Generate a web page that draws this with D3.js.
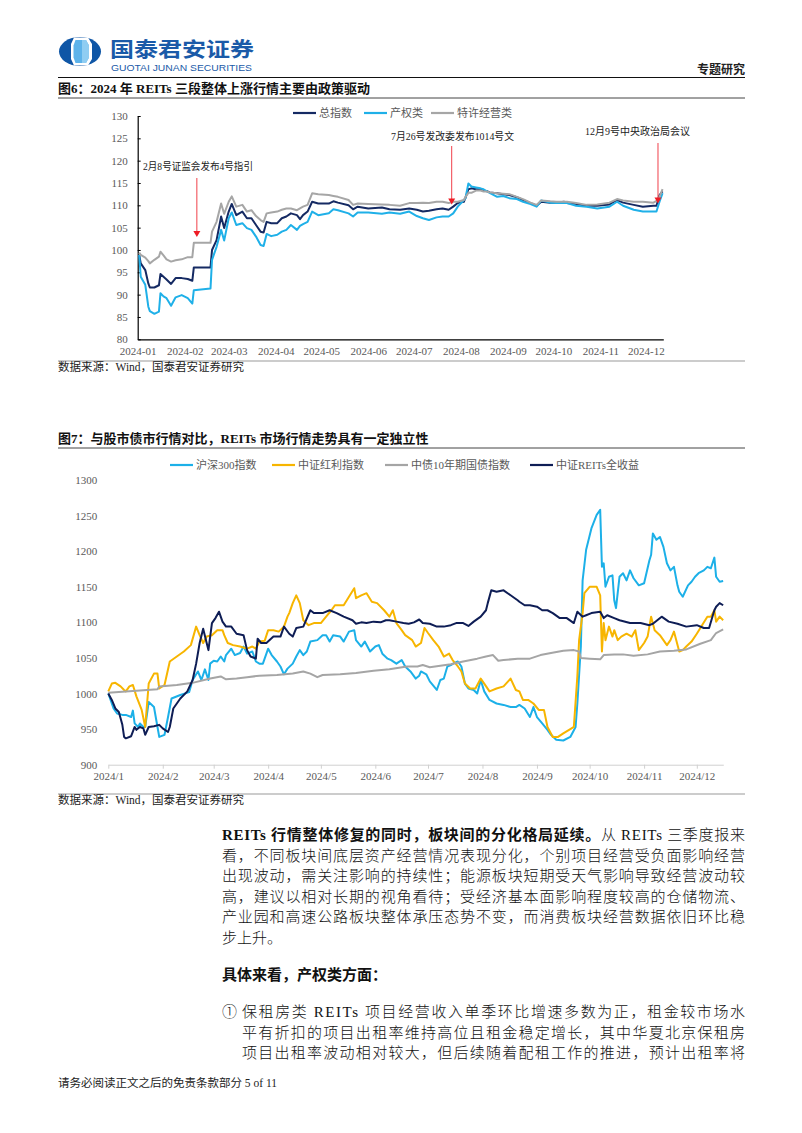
<!DOCTYPE html>
<html><head><meta charset="utf-8">
<script src="https://cdn.jsdelivr.net/npm/d3@7"></script>
<style>body{margin:0;background:#fff}svg{display:block}</style>
</head><body>
<svg id="page" width="802" height="1133"></svg>
<script>
// ---------------- DATA: Figure 6 (day-of-year 2024, index values) ----------------
const c1Days = [1,2,5,7,8,11,14,15,17,19,22,25,29,33,36,37,48,49,52,55,57,60,62,65,69,72,75,78,81,83,85,88,92,95,98,101,105,107,109,112,115,119,126,129,132,139,142,145,152,161,
  166,173,179,184,188,192,197,201,205,208,211,215,216,218,220,223,226,228,230,232,237,241,245,250,254,259,263,266,272,276,281,283,289,296,303,311,316,320,327,333,340,342,344,346];
const c1Total = [98.9,97.0,95.5,92.5,91.6,91.6,92.1,94.6,94.0,93.4,92.4,93.7,93.7,93.5,93.1,96.1,96.1,100.0,102.2,107.5,104.9,108.6,110.3,107.8,108.6,107.1,107.1,105.6,104.1,103.9,106.3,106.0,106.0,107.1,107.5,108.2,107.8,106.9,107.8,108.6,110.8,110.4,110.4,110.9,110.6,110.0,109.1,109.7,109.3,109.5,
  109.1,109.0,109.3,109.0,108.6,108.8,109.1,109.3,109.0,109.7,110.5,110.8,111.6,113.6,113.8,113.6,113.6,113.2,113.2,112.9,112.7,112.5,112.3,111.8,111.2,110.5,109.9,110.8,110.6,110.6,110.8,110.5,110.3,109.9,109.9,110.2,111.2,110.6,110.1,109.7,109.9,109.9,112.3,113.1];
const c1Property = [98.9,94.0,92.2,87.3,86.3,85.7,86.2,90.3,89.6,89.2,87.5,89.4,89.9,89.2,88.0,91.0,91.4,97.8,100.7,104.5,102.1,107.1,108.4,105.6,106.0,104.9,104.5,103.0,101.1,100.9,103.6,103.1,103.4,104.1,104.5,105.6,104.5,105.4,105.8,106.3,108.6,107.8,108.2,109.1,108.9,108.2,107.5,108.4,108.4,108.1,
  108.4,108.1,108.6,107.6,107.1,106.7,107.3,107.5,107.5,108.2,109.7,111.2,111.5,114.9,114.2,114.0,113.8,113.6,113.2,112.8,111.9,112.1,111.6,111.4,110.8,110.3,109.7,111.1,110.6,110.5,110.5,110.5,109.9,109.7,109.3,109.7,110.8,109.9,109.0,108.6,108.6,108.6,110.8,112.7];
const c1Franchise = [99.4,98.9,98.3,97.5,97.0,97.8,98.5,99.6,98.8,97.9,97.4,97.7,97.9,98.4,98.4,101.6,101.6,104.1,106.3,110.4,108.1,110.8,112.0,109.7,110.1,108.6,108.9,107.6,106.7,106.3,108.2,108.4,108.6,109.0,109.3,109.3,108.9,109.3,109.7,110.1,112.7,112.5,112.3,112.1,111.9,111.2,110.1,110.4,110.3,110.2,
  110.1,109.9,110.5,110.5,110.6,110.5,110.8,110.8,110.5,110.8,110.8,111.2,111.8,112.8,112.8,113.3,113.3,113.1,113.1,112.9,112.7,112.6,112.5,111.9,111.4,110.6,110.1,111.1,110.9,110.8,110.8,110.8,110.5,110.1,110.2,110.6,111.4,111.1,110.8,110.8,110.6,111.0,111.9,113.6];
const c1SeriesNames = ["总指数","产权类","特许经营类"];
const c1YTicks = [80,85,90,95,100,105,110,115,120,125,130];
const c1Events = [
  {day:39, label:"2月8号证监会发布4号指引"},
  {day:207, label:"7月26号发改委发布1014号文"},
  {day:343, label:"12月9号中央政治局会议"}
];

// ---------------- DATA: Figure 7 ([day-of-year 2024, index]) ----------------
const hs300 = [[0,1000],[3,979],[5,972],[8,970],[10,970],[13,967],[14,976],[15,958],[17,953],[18,958],[20,953],[21,953],[23,988],[26,981],[28,953],[29,939],[32,942],[34,967],[36,993],[41,998],[46,1002],[48,1019],[51,1031],[53,1019],[55,1034],[57,1019],[58,1042],[60,1046],[62,1045],[64,1052],[66,1045],[67,1054],[70,1063],[72,1054],[75,1057],[77,1066],[79,1056],[82,1059],[84,1045],[86,1042],[88,1042],[91,1063],[93,1054],[96,1045],[98,1038],[100,1027],[102,1035],
  [105,1042],[107,1052],[109,1061],[111,1054],[113,1059],[115,1073],[119,1075],[122,1082],[124,1082],[126,1073],[128,1082],[132,1080],[134,1073],[137,1087],[140,1089],[141,1075],[144,1066],[146,1073],[149,1059],[152,1066],[154,1068],[156,1056],[159,1049],[161,1047],[164,1042],[167,1047],[169,1038],[172,1031],[175,1021],[177,1025],[178,1031],[181,1027],[183,1017],[187,1005],[189,1019],[191,1021],[193,1038],[195,1040],[197,1043],[199,1045],[201,1038],[203,1014],[205,1007],[208,1005],[210,1000],[212,1019],[214,1003],[217,991],[221,986],[225,984],[229,981],[232,981],
  [234,984],[237,979],[240,967],[242,981],[244,967],[247,958],[250,949],[252,942],[255,935],[259,934],[263,939],[266,953],[267,986],[269,1066],[270,1159],[272,1202],[275,1232],[278,1251],[280,1258],[281,1178],[282,1183],[283,1150],[285,1164],[287,1166],[288,1131],[289,1120],[291,1164],[293,1169],[295,1159],[297,1173],[299,1162],[302,1152],[305,1155],[308,1187],[309,1195],[310,1225],[312,1216],[314,1220],[316,1206],[318,1183],[320,1173],[322,1178],[324,1152],[325,1143],[327,1136],[330,1152],[332,1157],[334,1164],[336,1169],[339,1173],[341,1178],[343,1176],[345,1191],[346,1164],[348,1157],[350,1158]];
const dividend = [[0,1003],[2,1014],[4,1015],[7,1010],[9,1005],[10,1003],[12,1010],[14,1012],[16,996],[19,977],[21,953],[23,1014],[26,1028],[28,1028],[29,1007],[32,1012],[35,1045],[39,1052],[43,1059],[47,1068],[50,1094],[52,1082],[54,1071],[56,1080],[59,1082],[62,1089],[65,1089],[66,1082],[68,1071],[71,1068],[75,1066],[79,1063],[82,1066],[84,1063],[86,1073],[89,1074],[91,1089],[94,1089],[97,1087],[100,1094],[102,1108],[103,1113],[105,1127],[107,1138],[109,1127],[111,1103],[114,1096],[117,1099],[121,1099],[124,1108],[127,1117],[129,1124],[134,1124],[137,1136],[140,1148],[141,1134],[144,1138],[147,1141],[150,1129],[153,1127],[157,1117],[160,1108],[162,1117],[164,1099],[167,1089],[169,1082],[173,1075],[175,1066],[178,1071],[180,1092],[182,1085],[185,1075],[188,1066],[191,1052],[194,1056],[196,1047],[199,1038],[201,1031],[203,1014],[206,1007],[209,1007],[212,1021],[214,1014],[217,1003],[221,1007],[225,1010],[229,1021],[232,1005],
  [234,1003],[236,991],[239,991],[242,986],[245,977],[248,977],[250,953],[253,939],[256,939],[259,944],[263,950],[265,953],[267,1024],[268,1075],[270,1113],[271,1141],[274,1150],[278,1150],[280,1138],[281,1059],[282,1099],[283,1075],[285,1094],[287,1080],[288,1089],[290,1075],[292,1080],[295,1084],[298,1080],[300,1089],[302,1061],[305,1071],[307,1080],[309,1108],[311,1089],[314,1082],[316,1075],[318,1068],[320,1075],[322,1087],[325,1059],[327,1061],[329,1066],[332,1073],[335,1084],[338,1096],[341,1108],[343,1108],[345,1117],[346,1101],[348,1108],[350,1103]];
const bond10y = [[0,1001],[10,1003],[28,1006],[29,1010],[39,1012],[48,1015],[58,1021],[64,1024],[67,1020],[73,1021],[79,1023],[86,1025],[96,1026],[105,1028],[111,1031],[115,1028],[119,1023],[122,1026],[132,1027],[141,1029],[151,1032],[160,1034],[170,1038],[176,1038],[179,1040],[183,1037],[189,1039],[195,1041],[202,1045],[210,1049],[215,1052],[219,1054],[222,1046],[225,1047],[233,1049],[240,1049],[246,1054],[252,1057],[259,1060],[265,1061],[268,1059],[269,1050],[274,1049],[280,1048],[282,1054],[288,1055],[293,1055],[299,1053],[307,1055],[314,1059],[322,1060],[329,1062],[337,1070],[343,1075],[346,1085],[350,1090]];
const reitsTR = [[0,1000],[2,991],[4,979],[6,974],[8,956],[9,939],[10,937],[13,940],[15,953],[16,949],[18,953],[20,951],[21,942],[23,953],[26,954],[29,956],[31,951],[34,946],[35,953],[37,979],[41,993],[45,1003],[48,1019],[50,1042],[52,1071],[54,1091],[56,1071],[57,1061],[59,1099],[61,1106],[63,1115],[65,1101],[67,1094],[70,1094],[73,1084],[77,1082],[79,1061],[81,1052],[84,1049],[85,1077],[87,1071],[90,1071],[94,1080],[98,1080],[100,1094],[103,1084],[105,1080],[107,1092],[111,1094],[115,1117],[117,1113],[122,1113],[126,1117],[130,1113],[134,1108],[139,1103],[141,1098],[144,1100],[147,1099],[151,1101],[155,1100],[158,1103],[160,1103],[164,1101],[168,1099],[171,1098],[174,1100],[177,1104],[179,1099],[183,1098],[187,1094],[191,1094],[195,1096],[198,1099],[202,1099],[205,1095],[208,1101],[212,1108],[215,1117],[216,1127],[218,1145],[221,1143],[225,1145],[229,1138],[233,1131],
  [234,1129],[237,1124],[240,1124],[244,1122],[247,1117],[250,1117],[253,1113],[257,1106],[261,1106],[265,1099],[267,1115],[270,1108],[272,1110],[275,1113],[280,1115],[282,1106],[284,1110],[288,1106],[291,1103],[297,1099],[303,1099],[308,1096],[310,1098],[315,1108],[319,1101],[324,1098],[329,1094],[335,1096],[339,1092],[342,1092],[345,1117],[346,1122],[348,1127],[350,1124]];
const c2SeriesNames = ["沪深300指数","中证红利指数","中债10年期国债指数","中证REITs全收益"];
const c2YTicks = [900,950,1000,1050,1100,1150,1200,1250,1300];

// ---------------- RENDER ----------------
const svg = d3.select("#page");
const CJK = "'Noto Sans CJK SC', sans-serif";
const MIX = "'Liberation Serif', 'Noto Sans CJK SC', serif";
const base = new Date(2024, 0, 1);
const toDate = d => d3.timeDay.offset(base, d);

// Header / logo
const logo = svg.append("g");
logo.append("ellipse").attr("cx", 80).attr("cy", 51.5).attr("rx", 21).attr("ry", 14.5).attr("fill", "#0f56a6");
logo.append("path").attr("d", "M74,37.5 L88,37.5 L92,44 L92,59 L88,65.5 L74,65.5 L71,59 L71,44 Z").attr("fill", "#fff");
logo.append("path").attr("d", "M75.5,40 L86,40 L89,45.5 L89,57.5 L86,63 L75.5,63 L73.5,57.5 L73.5,45.5 Z").attr("fill", "#5db3ea");
logo.append("path").attr("d", "M82,40 L86,40 L89,45.5 L89,57.5 L86,63 L82,63 Z").attr("fill", "#8fcdf2");
svg.append("text").attr("x", 110).attr("y", 57).attr("font-family", CJK).attr("font-weight", 700)
  .attr("font-size", 20.5).attr("fill", "#1a5aa8").attr("textLength", 144).attr("lengthAdjust", "spacingAndGlyphs").text("国泰君安证券");
svg.append("text").attr("x", 111).attr("y", 70.5).attr("font-family", "'Liberation Sans', Arial, sans-serif")
  .attr("font-size", 8.2).attr("fill", "#1a5aa8").attr("textLength", 141).attr("lengthAdjust", "spacingAndGlyphs").text("GUOTAI JUNAN SECURITIES");
svg.append("text").attr("x", 745).attr("y", 74).attr("text-anchor", "end").attr("font-family", CJK).attr("font-weight", 700)
  .attr("font-size", 12).attr("fill", "#222").text("专题研究");
svg.append("line").attr("x1", 58).attr("x2", 745).attr("y1", 77.5).attr("y2", 77.5).attr("stroke", "#111").attr("stroke-width", 1);

function figTitle(y, txt) {
  svg.append("text").attr("x", 58).attr("y", y).attr("font-family", MIX).attr("font-weight", 700)
    .attr("font-size", 13).attr("fill", "#111").text(txt);
  svg.append("line").attr("x1", 58).attr("x2", 745).attr("y1", y + 5).attr("y2", y + 5).attr("stroke", "#444").attr("stroke-width", 1);
}
function sourceLine(y) {
  svg.append("line").attr("x1", 58).attr("x2", 745).attr("y1", y - 10).attr("y2", y - 10).attr("stroke", "#999").attr("stroke-width", 1);
  svg.append("text").attr("x", 58).attr("y", y).attr("font-family", MIX).attr("font-size", 11.5)
    .attr("fill", "#222").text("数据来源：Wind，国泰君安证券研究");
}
figTitle(93, "图6：2024 年 REITs 三段整体上涨行情主要由政策驱动");
figTitle(443, "图7：与股市债市行情对比，REITs 市场行情走势具有一定独立性");

function legend(items, y) {
  const g = svg.append("g");
  items.forEach(it => {
    g.append("line").attr("x1", it.x).attr("x2", it.x + 23).attr("y1", y).attr("y2", y)
      .attr("stroke", it.color).attr("stroke-width", 2.2);
    g.append("text").attr("x", it.x + 26).attr("y", y + 4).attr("font-family", MIX).attr("font-size", 11)
      .attr("fill", "#595959").text(it.name);
  });
}

// ---------- Figure 6 ----------
const c1Colors = ["#152a63", "#1fb0e8", "#a6a6a6"];
const x1 = d3.scaleTime().domain([base, new Date(2024, 11, 12, 12)]).range([137.7, 663.3]);
const y1 = d3.scaleLinear().domain([80, 130]).range([339.3, 116]);
const g1 = svg.append("g");
const ax1 = g1.append("g").attr("transform", "translate(0,339.3)")
  .call(d3.axisBottom(x1).ticks(d3.timeMonth.every(1)).tickFormat(d3.timeFormat("%Y-%m")).tickSize(0).tickSizeOuter(0).tickPadding(8));
const ay1 = g1.append("g").attr("transform", "translate(137.7,0)")
  .call(d3.axisLeft(y1).tickValues(c1YTicks).tickSize(-3).tickSizeOuter(0).tickPadding(10));
[ax1, ay1].forEach(a => {
  a.select(".domain").attr("stroke", "#000").attr("stroke-width", 1.2);
  a.selectAll(".tick line").attr("stroke", "#000");
  a.selectAll("text").attr("font-family", "'Liberation Serif', serif").attr("font-size", 11).attr("fill", "#595959");
});
const c1Series = [c1Total, c1Property, c1Franchise];
const line1 = d3.line().x(d => x1(toDate(d[0]))).y(d => y1(d[1]));
c1Series.forEach((vals, i) => {
  g1.append("path").datum(c1Days.map((d, j) => [d, vals[j]]))
    .attr("fill", "none").attr("stroke", c1Colors[i]).attr("stroke-width", 2).attr("stroke-linejoin", "round")
    .attr("d", line1);
});
legend([
  {x: 293, name: c1SeriesNames[0], color: c1Colors[0]},
  {x: 364, name: c1SeriesNames[1], color: c1Colors[1]},
  {x: 431, name: c1SeriesNames[2], color: c1Colors[2]}
], 113);

// event annotations
const evLayout = [
  {tx: 143, ty: 170, lw: 110, y0: 178, y1: 237},
  {tx: 391, ty: 140, lw: 123, y0: 146, y1: 204.5},
  {tx: 585, ty: 135, lw: 105, y0: 143, y1: 203.5}
];
c1Events.forEach((ev, i) => {
  const L = evLayout[i];
  const ax = x1(toDate(ev.day));
  svg.append("text").attr("x", L.tx).attr("y", L.ty).attr("font-family", MIX).attr("font-size", 10)
    .attr("fill", "#222").attr("textLength", L.lw).attr("lengthAdjust", "spacingAndGlyphs").text(ev.label);
  svg.append("line").attr("x1", ax).attr("x2", ax).attr("y1", L.y0).attr("y2", L.y1 - 5)
    .attr("stroke", "#f0414a").attr("stroke-width", 1);
  svg.append("path").attr("d", `M${ax - 3.5},${L.y1 - 6} L${ax + 3.5},${L.y1 - 6} L${ax},${L.y1} Z`).attr("fill", "#ee1c25");
});
sourceLine(371);

// ---------- Figure 7 ----------
const c2Colors = ["#1cb0e8", "#f7b500", "#a5a5a5", "#0e1d55"];
const x2 = d3.scaleTime().domain([base, new Date(2024, 11, 16, 2)]).range([108.3, 723.3]);
const y2 = d3.scaleLinear().domain([900, 1300]).range([764.7, 480]);
const g2 = svg.append("g");
const ax2 = g2.append("g").attr("transform", "translate(0,764.7)")
  .call(d3.axisBottom(x2).ticks(d3.timeMonth.every(1)).tickFormat(d => `${d.getFullYear()}/${d.getMonth() + 1}`)
    .tickSize(4).tickSizeOuter(0).tickPadding(4));
ax2.select(".domain").attr("stroke", "#d0d0d0");
ax2.selectAll(".tick line").attr("stroke", "#d0d0d0");
const ay2 = g2.append("g").attr("transform", "translate(108.3,0)")
  .call(d3.axisLeft(y2).tickValues(c2YTicks).tickFormat(d3.format("d")).tickSize(0).tickPadding(11));
ay2.select(".domain").remove();
[ax2, ay2].forEach(a => a.selectAll("text").attr("font-family", "'Liberation Serif', serif").attr("font-size", 11).attr("fill", "#595959"));
const line2 = d3.line().x(d => x2(toDate(d[0]))).y(d => y2(d[1]));
[hs300, dividend, bond10y, reitsTR].forEach((s, i) => {
  g2.append("path").datum(s).attr("fill", "none").attr("stroke", c2Colors[i]).attr("stroke-width", 2)
    .attr("stroke-linejoin", "round").attr("d", line2);
});
legend([
  {x: 170, name: c2SeriesNames[0], color: c2Colors[0]},
  {x: 272, name: c2SeriesNames[1], color: c2Colors[1]},
  {x: 385, name: c2SeriesNames[2], color: c2Colors[2]},
  {x: 530, name: c2SeriesNames[3], color: c2Colors[3]}
], 465);
sourceLine(804);

// ---------- Body text ----------
const BODY = MIX;
function bodyLine(x, y, parts, width) {
  const t = svg.append("text").attr("x", x).attr("y", y).attr("font-family", BODY).attr("font-size", 15).attr("fill", "#111");
  parts.forEach(p => t.append("tspan").attr("font-weight", p.b ? 700 : 300).text(p.t));
  if (width) t.attr("textLength", width).attr("lengthAdjust", "spacing");
}
const L0 = 840, LH = 20.6;
bodyLine(222, L0, [{t: "REITs 行情整体修复的同时，板块间的分化格局延续。", b: 1}, {t: "从 REITs 三季度报来"}], 523);
bodyLine(222, L0 + LH, [{t: "看，不同板块间底层资产经营情况表现分化，个别项目经营受负面影响经营"}], 523);
bodyLine(222, L0 + 2 * LH, [{t: "出现波动，需关注影响的持续性；能源板块短期受天气影响导致经营波动较"}], 523);
bodyLine(222, L0 + 3 * LH, [{t: "高，建议以相对长期的视角看待；受经济基本面影响程度较高的仓储物流、"}], 523);
bodyLine(222, L0 + 4 * LH, [{t: "产业园和高速公路板块整体承压态势不变，而消费板块经营数据依旧环比稳"}], 523);
bodyLine(222, L0 + 5 * LH, [{t: "步上升。"}]);
bodyLine(222, 980, [{t: "具体来看，产权类方面：", b: 1}]);
bodyLine(222, 1017, [{t: "①"}]);
bodyLine(242, 1017, [{t: "保租房类 REITs 项目经营收入单季环比增速多数为正，租金较市场水"}], 503);
bodyLine(242, 1037.6, [{t: "平有折扣的项目出租率维持高位且租金稳定增长，其中华夏北京保租房"}], 503);
bodyLine(242, 1058.2, [{t: "项目出租率波动相对较大，但后续随着配租工作的推进，预计出租率将"}], 503);

svg.append("text").attr("x", 58).attr("y", 1087).attr("font-family", MIX).attr("font-size", 11.5).attr("fill", "#222")
  .text("请务必阅读正文之后的免责条款部分 5 of 11");
</script>
</body></html>
